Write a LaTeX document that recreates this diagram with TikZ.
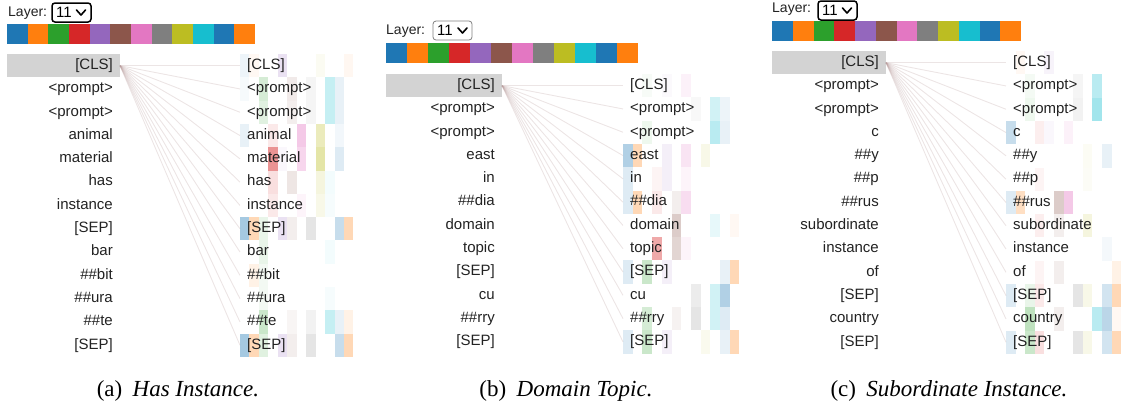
\documentclass[tikz,border=0pt]{standalone}
\usepackage{fontspec}
\setmainfont{Liberation Serif}
\setsansfont{Liberation Sans}
\usetikzlibrary{positioning}

% head colours
\definecolor{c1}{HTML}{1F77B4}
\definecolor{c2}{HTML}{FF7F0E}
\definecolor{c3}{HTML}{2CA02C}
\definecolor{c4}{HTML}{D62728}
\definecolor{c5}{HTML}{9467BD}
\definecolor{c6}{HTML}{8C564B}
\definecolor{c7}{HTML}{E377C2}
\definecolor{c8}{HTML}{7F7F7F}
\definecolor{c9}{HTML}{BCBD22}
\definecolor{c10}{HTML}{17BECF}
\definecolor{c11}{HTML}{1F77B4}
\definecolor{c12}{HTML}{FF7F0E}
\definecolor{txt}{HTML}{222222}
\definecolor{clsgray}{HTML}{D3D3D3}
\definecolor{attnline}{HTML}{B49696}

\newcommand{\headbar}[3]{% x, y, width of one square
  \foreach \c in {1,...,12}
    \fill[c\c] ({#1+(\c-1)*#3},#2) rectangle ++(#3,20);
}
\newcommand{\heatcells}[4]{% x, top, column width, row/column/weight
  \foreach \r/\c/\v in {#4}
    \fill[c\c, fill opacity=\v] ({#1+(\c-1)*#3},{#2+(\r-1)*23.3}) rectangle ++(#3,23.3);
}

\begin{document}
\begin{tikzpicture}[x=1pt, y=-1pt,
    tok/.style={font=\sffamily\fontsize{15}{15}\selectfont, text=txt,
      inner xsep=7pt, inner ysep=4.4pt, text height=11pt, text depth=3.5pt},
    lefttok/.style={tok, anchor=east},
    righttok/.style={tok, anchor=west},
    clstok/.style={lefttok, fill=clsgray, text width=99pt, align=right},
    layer/.style={font=\sffamily\fontsize{14}{14}\selectfont, text=txt, anchor=west, inner sep=0pt},
    selbox/.style={draw, rounded corners=3pt, line width=1.5pt, minimum width=39pt, minimum height=19pt, inner sep=0pt},
    selthin/.style={selbox, draw=gray, line width=0.8pt},
    seltext/.style={font=\sffamily\fontsize{15}{15}\selectfont, inner sep=0pt},
    chev/.style={line width=1.6pt, line cap=round, line join=round},
    attn/.style={draw=attnline, line width=0.9pt, draw opacity=0.25},
    caption/.style={font=\fontsize{23}{23}\selectfont, anchor=base}
  ]
\useasboundingbox (0,0) rectangle (1121,408);

% ---- (a) Has Instance
\node[layer] (aLayer) at (8,13) {Layer:};
\node[selbox] (aSel) at (71.5,12.5) {};
\node[seltext] (aSelT) at ([xshift=-7.5pt]aSel.center) {11};
\draw[chev] ([shift={(5,-2.5)}]aSel.center) -- ++(4.5,5) -- ++(4.5,-5);
\headbar{7}{24}{20.67}
\node[clstok] (aL1) at (120,65.65) {[CLS]};
\foreach \t [count=\i from 2] in {<prompt>, <prompt>, animal, material, has, instance, {[SEP]}, bar, \#\#bit, \#\#ura, \#\#te, {[SEP]}}
  \node[lefttok] (aL\i) at (120,{54+(\i-0.5)*23.3}) {\t};
\foreach \t [count=\i] in {{[CLS]}, <prompt>, <prompt>, animal, material, has, instance, {[SEP]}, bar, \#\#bit, \#\#ura, \#\#te, {[SEP]}}
  \coordinate (aR\i) at (240,{54+(\i-0.5)*23.3});
\foreach \i in {1,...,13}
  \draw[attn] (aL1.east) -- (aR\i);
\heatcells{240}{54}{9.45}{1/1/.08, 1/2/.05, 1/5/.2, 1/9/.06, 1/12/.06,
  2/1/.04, 2/3/.2, 2/6/.12, 2/8/.08, 2/10/.25, 2/11/.1,
  3/3/.15, 3/6/.1, 3/8/.08, 3/10/.25, 3/11/.1,
  4/1/.1, 4/4/.1, 4/7/.4, 4/9/.3, 4/11/.06,
  5/4/.5, 5/5/.05, 5/7/.3, 5/9/.4, 5/11/.15,
  6/4/.15, 6/6/.15, 6/9/.15, 6/10/.05,
  7/4/.1, 7/7/.08, 7/9/.1, 7/10/.04,
  8/1/.4, 8/2/.3, 8/3/.1, 8/5/.2, 8/6/.1, 8/8/.2, 8/11/.25, 8/12/.3,
  9/3/.1, 9/10/.05,
  10/2/.1, 10/3/.06,
  11/3/.06, 11/10/.04,
  12/3/.25, 12/6/.06, 12/8/.1, 12/10/.25, 12/11/.1, 12/12/.1,
  13/1/.4, 13/2/.3, 13/3/.15, 13/5/.2, 13/6/.1, 13/8/.2, 13/11/.25, 13/12/.3}
\foreach \t [count=\i] in {{[CLS]}, <prompt>, <prompt>, animal, material, has, instance, {[SEP]}, bar, \#\#bit, \#\#ura, \#\#te, {[SEP]}}
  \node[righttok] (aT\i) at (aR\i) {\t};
\node[caption] (aCap) at (178,396) {(a)\hspace{0.45em}\textit{Has Instance.}};

% ---- (b) Domain Topic
\node[layer] (bLayer) at (386,31) {Layer:};
\node[selthin] (bSel) at (452.5,30.5) {};
\node[seltext] (bSelT) at ([xshift=-7.5pt]bSel.center) {11};
\draw[chev] ([shift={(5.5,-2.5)}]bSel.center) -- ++(4.5,5) -- ++(4.5,-5);
\headbar{386}{43}{21}
\node[clstok, text width=102pt] (bL1) at (502,85.65) {[CLS]};
\foreach \t [count=\i from 2] in {<prompt>, <prompt>, east, in, \#\#dia, domain, topic, {[SEP]}, cu, \#\#rry, {[SEP]}}
  \node[lefttok] (bL\i) at (502,{74+(\i-0.5)*23.3}) {\t};
\foreach \t [count=\i] in {{[CLS]}, <prompt>, <prompt>, east, in, \#\#dia, domain, topic, {[SEP]}, cu, \#\#rry, {[SEP]}}
  \coordinate (bR\i) at (623,{74+(\i-0.5)*23.3});
\foreach \i in {1,...,12}
  \draw[attn] (bL1.east) -- (bR\i);
\heatcells{623}{74}{9.7}{1/3/.04, 1/5/.04, 1/7/.1,
  2/8/.05, 2/10/.2, 2/11/.08,
  3/3/.08, 3/10/.3, 3/11/.1,
  4/1/.35, 4/2/.3, 4/5/.1, 4/7/.2, 4/9/.1,
  5/1/.15, 5/4/.05, 5/5/.1, 5/7/.08,
  6/1/.15, 6/2/.3, 6/4/.1, 6/6/.1, 6/7/.25,
  7/6/.3, 7/10/.1, 7/12/.05,
  8/4/.4, 8/6/.25, 8/7/.08,
  9/1/.15, 9/3/.25, 9/5/.1, 9/11/.1, 9/12/.3,
  10/8/.15, 10/10/.2, 10/11/.35,
  11/3/.2, 11/6/.08, 11/8/.2, 11/10/.2, 11/11/.15,
  12/1/.15, 12/3/.25, 12/5/.1, 12/9/.08, 12/11/.1, 12/12/.3}
\foreach \t [count=\i] in {{[CLS]}, <prompt>, <prompt>, east, in, \#\#dia, domain, topic, {[SEP]}, cu, \#\#rry, {[SEP]}}
  \node[righttok] (bT\i) at (bR\i) {\t};
\node[caption] (bCap) at (566,396) {(b)\hspace{0.45em}\textit{Domain Topic.}};

% ---- (c) Subordinate Instance
\node[layer] (cLayer) at (772,9) {Layer:};
\node[selbox] (cSel) at (837.5,10.5) {};
\node[seltext] (cSelT) at ([xshift=-7.5pt]cSel.center) {11};
\draw[chev] ([shift={(5,-2.5)}]cSel.center) -- ++(4.5,5) -- ++(4.5,-5);
\headbar{772}{21}{20.75}
\node[clstok, text width=100pt] (cL1) at (886,62.65) {[CLS]};
\foreach \t [count=\i from 2] in {<prompt>, <prompt>, c, \#\#y, \#\#p, \#\#rus, subordinate, instance, of, {[SEP]}, country, {[SEP]}}
  \node[lefttok] (cL\i) at (886,{51+(\i-0.5)*23.3}) {\t};
\foreach \t [count=\i] in {{[CLS]}, <prompt>, <prompt>, c, \#\#y, \#\#p, \#\#rus, subordinate, instance, of, {[SEP]}, country, {[SEP]}}
  \coordinate (cR\i) at (1006,{51+(\i-0.5)*23.3});
\foreach \i in {1,...,13}
  \draw[attn] (cL1.east) -- (cR\i);
\heatcells{1006}{51}{9.6}{1/2/.05, 1/5/.08,
  2/3/.05, 2/8/.08, 2/10/.3,
  3/3/.08, 3/8/.1, 3/10/.4,
  4/1/.25, 4/4/.08, 4/5/.05, 4/7/.1,
  5/9/.05, 5/11/.1,
  6/4/.05, 6/9/.04,
  7/1/.15, 7/2/.25, 7/6/.3, 7/7/.4,
  8/4/.08, 8/6/.1, 8/9/.15,
  9/11/.05,
  10/4/.05, 10/6/.1, 10/12/.1,
  11/1/.15, 11/3/.1, 11/4/.1, 11/8/.2, 11/9/.1, 11/11/.2, 11/12/.3,
  12/3/.3, 12/6/.1, 12/10/.3, 12/11/.3, 12/12/.05,
  13/1/.15, 13/3/.25, 13/4/.15, 13/8/.2, 13/9/.1, 13/11/.2, 13/12/.3}
\foreach \t [count=\i] in {{[CLS]}, <prompt>, <prompt>, c, \#\#y, \#\#p, \#\#rus, subordinate, instance, of, {[SEP]}, country, {[SEP]}}
  \node[righttok] (cT\i) at (cR\i) {\t};
\node[caption] (cCap) at (949,396) {(c)\hspace{0.45em}\textit{Subordinate Instance.}};
\end{tikzpicture}
\end{document}
